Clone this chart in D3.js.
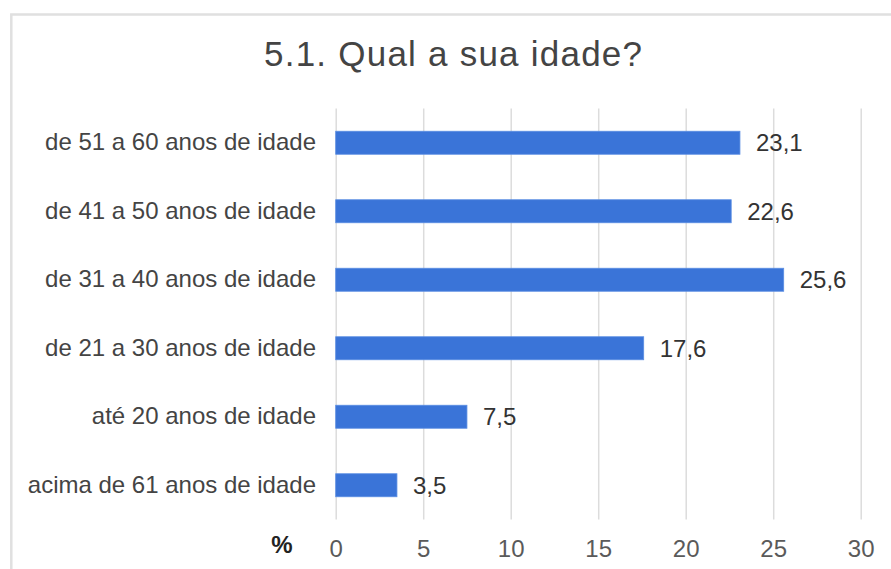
<!DOCTYPE html>
<html>
<head>
<meta charset="utf-8">
<script src="https://cdn.jsdelivr.net/npm/d3@7"></script>
<style>
  html, body { margin: 0; padding: 0; background: #fff; }
  svg { display: block; font-family: Arial, "Liberation Sans", sans-serif; }
</style>
</head>
<body>
<svg id="chart" width="891" height="569"></svg>
<script>
const title = "5.1. Qual a sua idade?";
const categories = [
  "de 51 a 60 anos de idade",
  "de 41 a 50 anos de idade",
  "de 31 a 40 anos de idade",
  "de 21 a 30 anos de idade",
  "até 20 anos de idade",
  "acima de 61 anos de idade"
];
const values = [23.1, 22.6, 25.6, 17.6, 7.5, 3.5];
const tickValues = [0, 5, 10, 15, 20, 25, 30];
const axisUnit = "%";

const svg = d3.select("#chart");

// outer border (extends past the right and bottom edges)
svg.append("rect")
  .attr("x", 11.3).attr("y", 14.5)
  .attr("width", 900).attr("height", 600)
  .attr("fill", "none")
  .attr("stroke", "#e0e0e0")
  .attr("stroke-width", 2.5);

const plotTop = 108.5, plotBottom = 519.5;
const x = d3.scaleLinear().domain([0, 30]).range([335.7, 860.7]);
const y = d3.scaleBand().domain(categories).range([plotTop, plotBottom])
  .paddingInner(0.664).paddingOuter(0.332);

// gridlines + tick labels
const xAxis = d3.axisBottom(x)
  .tickValues(tickValues)
  .tickSize(-(plotBottom - plotTop))
  .tickPadding(20)
  .tickFormat(d3.format("d"));

const gx = svg.append("g")
  .attr("transform", `translate(0,${plotBottom})`)
  .call(xAxis);
gx.select(".domain").remove();
gx.selectAll(".tick line").attr("stroke", "#dcdcdc").attr("stroke-width", 1.5);
gx.selectAll(".tick text")
  .attr("fill", "#5a5a5a")
  .style("font-size", "24px")
  .style("font-family", "Arial, 'Liberation Sans', sans-serif");

// unit label
svg.append("text")
  .attr("x", 282).attr("y", 553)
  .attr("text-anchor", "middle")
  .attr("fill", "#222")
  .style("font-size", "24px")
  .style("font-weight", "bold")
  .text(axisUnit);

// bars
const data = categories.map((c, i) => ({ c, v: values[i] }));
svg.append("g").selectAll("rect")
  .data(data).join("rect")
  .attr("x", x(0))
  .attr("y", d => y(d.c))
  .attr("width", d => x(d.v) - x(0))
  .attr("height", y.bandwidth())
  .attr("fill", "#3a74d8")
  .attr("stroke", "#5b8ee3")
  .attr("stroke-width", 0.8);

// category labels
svg.append("g").selectAll("text")
  .data(data).join("text")
  .attr("x", 316)
  .attr("y", d => y(d.c) + y.bandwidth() / 2)
  .attr("dy", "0.32em")
  .attr("text-anchor", "end")
  .attr("fill", "#444")
  .style("font-size", "24px")
  .text(d => d.c);

// value labels
const fmt = v => d3.format(".1f")(v).replace(".", ",");
svg.append("g").selectAll("text")
  .data(data).join("text")
  .attr("x", d => x(d.v) + 16)
  .attr("y", d => y(d.c) + y.bandwidth() / 2)
  .attr("dy", "0.36em")
  .attr("fill", "#333")
  .style("font-size", "24px")
  .text(d => fmt(d.v));

// title
svg.append("text")
  .attr("x", 453).attr("y", 66)
  .attr("text-anchor", "middle")
  .attr("fill", "#444")
  .style("font-size", "35px")
  .attr("textLength", 378)
  .attr("lengthAdjust", "spacing")
  .text(title);
</script>
</body>
</html>
